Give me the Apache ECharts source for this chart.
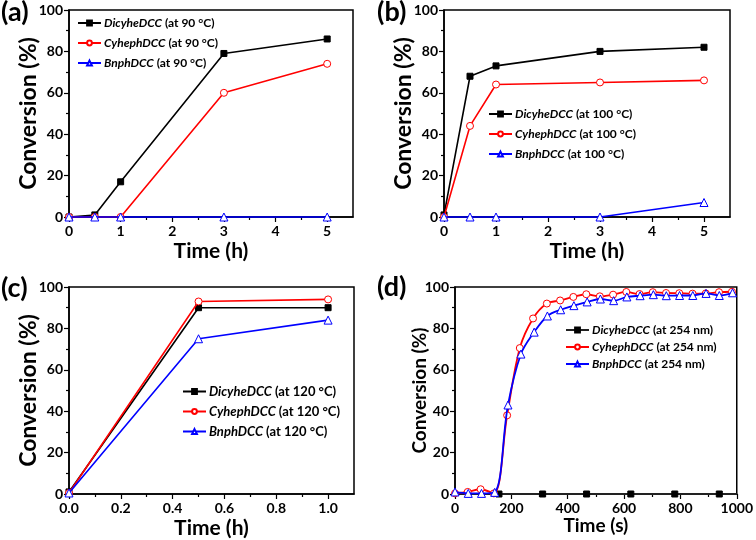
<!DOCTYPE html>
<html><head><meta charset="utf-8">
<script src="https://cdn.jsdelivr.net/npm/echarts@6/dist/echarts.min.js"></script>
<style>html,body{margin:0;padding:0;background:#fff}#c{width:756px;height:540px}</style>
</head><body><div id="c"></div>
<script>
// ---------- DATA ----------
// (a) 90 °C
const timeA = [0, 0.5, 1, 3, 5];
const dicyheA = [0, 1, 17, 79, 86];
const cyhephA = [0, 0, 0, 60, 74];
const bnphA = [0, 0, 0, 0, 0];
// (b) 100 °C
const timeB = [0, 0.5, 1, 3, 5];
const dicyheB = [1, 68, 73, 80, 82];
const cyhephB = [0, 44, 64, 65, 66];
const bnphB = [0, 0, 0, 0, 7];
// (c) 120 °C
const timeC = [0, 0.5, 1.0];
const dicyheC = [1, 90, 90];
const cyhephC = [0.5, 93, 94];
const bnphC = [0.5, 75, 84];
// (d) 254 nm
const timeD_dicyhe = [0, 156, 311, 467, 624, 780, 938, 1000];
const dicyheD = [0, 0, 0, 0, 0, 0, 0, 0];
const timeD_cyheph = [0, 45, 91, 138, 185, 230, 277, 326, 373, 420, 466, 514, 561, 608, 655, 702, 749, 796, 843, 890, 937, 983];
const cyhephD = [0.3, 1, 2.3, 0.3, 38, 70.5, 84.8, 92, 93.5, 95.2, 96.5, 95.5, 96.3, 97.6, 96.6, 97.5, 97.1, 97.0, 96.8, 96.9, 97.5, 97.7];
const timeD_bnph = [0, 47, 94, 141, 188, 234, 281, 328, 375, 422, 469, 516, 563, 610, 657, 704, 750, 797, 844, 891, 938, 985];
const bnphD = [1, 0.3, 0.3, 0.8, 43, 67.6, 78.2, 86, 89, 91, 92.8, 94.2, 93.4, 95.2, 95.8, 96.3, 95.8, 95.9, 95.9, 96.9, 95.9, 97.2];

const majorTicksAB = [0, 1, 2, 3, 4, 5];
const minorTicksAB = [0.5, 1.5, 2.5, 3.5, 4.5];
const majorTicksC = [0, 0.2, 0.4, 0.6, 0.8, 1.0];
const minorTicksC = [0.1, 0.3, 0.5, 0.7, 0.9];

const namesA = ['DicyheDCC (at 90 \u00B0C)', 'CyhephDCC (at 90 \u00B0C)', 'BnphDCC (at 90 \u00B0C)'];
const namesB = ['DicyheDCC (at 100 \u00B0C)', 'CyhephDCC (at 100 \u00B0C)', 'BnphDCC (at 100 \u00B0C)'];
const namesC = ['DicyheDCC (at 120 \u00B0C)', 'CyhephDCC (at 120 \u00B0C)', 'BnphDCC (at 120 \u00B0C)'];
const namesD = ['DicyheDCC (at 254 nm)', 'CyhephDCC (at 254 nm)', 'BnphDCC (at 254 nm)'];

// ---------- STYLE ----------
const F = 'Lato';
const pair = (xs, ys) => xs.map((x, i) => [x, ys[i]]);

const grids = [
  {left: 69, top: 10, width: 284, height: 207},
  {left: 444, top: 10, width: 286, height: 207},
  {left: 69, top: 287, width: 285, height: 207},
  {left: 455, top: 287, width: 284, height: 207}
].map(g => Object.assign(g, {show: true, borderColor: '#000', borderWidth: 1.5, backgroundColor: 'transparent'}));

const lbl = (fs, fmt, custom) => {
  const o = {fontFamily: F, fontWeight: 'bold', fontSize: fs, color: '#000', margin: 7};
  if (fmt) o.formatter = fmt;
  if (custom) o.customValues = custom;
  return o;
};
const axLine = {show: true, onZero: false, lineStyle: {color: '#000', width: 1.5}};

function mainX(gi, min, max, custom, fmt, name, nfs, gap) {
  const ax = {type: 'value', gridIndex: gi, min: min, max: max, position: 'bottom',
    axisLine: axLine, splitLine: {show: false},
    axisTick: {show: true, inside: false, length: 5, lineStyle: {color: '#000', width: 1.2}},
    axisLabel: lbl(14, fmt, custom),
    name: name, nameLocation: 'middle', nameGap: gap, nameMoveOverlap: false,
    nameTextStyle: {fontFamily: F, fontWeight: 'bold', fontSize: nfs, color: '#000'}};
  if (custom) ax.axisTick.customValues = custom;
  return ax;
}
function minorX(gi, min, max, custom) {
  return {type: 'value', gridIndex: gi, min: min, max: max, position: 'bottom',
    axisLine: {show: false}, splitLine: {show: false}, axisLabel: {show: false},
    axisTick: {show: true, inside: false, length: 3, lineStyle: {color: '#000', width: 1.2}, customValues: custom}};
}
function yAx(gi, nfs, gap) {
  return {type: 'value', gridIndex: gi, min: 0, max: 100, interval: 20,
    axisLine: axLine, splitLine: {show: false},
    axisTick: {show: true, inside: false, length: 5, lineStyle: {color: '#000', width: 1.2}},
    minorTick: {show: true, splitNumber: 2, length: 3, lineStyle: {color: '#000', width: 1.2}},
    axisLabel: Object.assign(lbl(14), {margin: 6}),
    name: 'Conversion (%)', nameLocation: 'middle', nameGap: gap, nameRotate: 90, nameMoveOverlap: false,
    nameTextStyle: {fontFamily: F, fontWeight: 'bold', fontSize: nfs, color: '#000'}};
}

const xAxes = [
  mainX(0, 0, 5.5, majorTicksAB, null, 'Time (h)', 21, 24),
  minorX(0, 0, 5.5, minorTicksAB),
  mainX(1, 0, 5.5, majorTicksAB, null, 'Time (h)', 21, 24),
  minorX(1, 0, 5.5, minorTicksAB),
  mainX(2, 0, 1.1, majorTicksC, v => v.toFixed(1), 'Time (h)', 21, 24),
  minorX(2, 0, 1.1, minorTicksC),
  Object.assign(mainX(3, 0, 1000, null, v => String(v), 'Time (s)', 19, 22), {interval: 200,
    minorTick: {show: true, splitNumber: 2, length: 3, lineStyle: {color: '#000', width: 1.2}}})
];

const yAxes = [yAx(0, 23, 29), yAx(1, 23, 29), yAx(2, 23, 29), yAx(3, 19, 26)];

const styles = [
  {symbol: 'rect', symbolSize: 6, color: '#000', fill: '#000'},
  {symbol: 'circle', symbolSize: 7, color: '#ff0000', fill: '#fff'},
  {symbol: 'triangle', symbolSize: 8, color: '#0000ff', fill: '#fff'}
];
function mk(name, data, k, xi, yi, extra) {
  const s = styles[k];
  return Object.assign({
    type: 'line', name: name, data: data, xAxisIndex: xi, yAxisIndex: yi,
    symbol: s.symbol, symbolSize: s.symbolSize, showSymbol: true,
    lineStyle: {color: s.color, width: 1.6},
    itemStyle: {color: s.fill, borderColor: s.color, borderWidth: 1},
    emphasis: {disabled: true}, animation: false, clip: false, z: 2 + k
  }, extra || {});
}

const blackD = pair(timeD_dicyhe, dicyheD).map((p, i, arr) =>
  (i === 0 || i === arr.length - 1) ? {value: p, symbol: 'none'} : {value: p});

const series = [
  mk(namesA[0], pair(timeA, dicyheA), 0, 0, 0),
  mk(namesA[1], pair(timeA, cyhephA), 1, 0, 0),
  mk(namesA[2], pair(timeA, bnphA), 2, 0, 0),
  mk(namesB[0], pair(timeB, dicyheB), 0, 2, 1),
  mk(namesB[1], pair(timeB, cyhephB), 1, 2, 1),
  mk(namesB[2], pair(timeB, bnphB), 2, 2, 1),
  mk(namesC[0], pair(timeC, dicyheC), 0, 4, 2),
  mk(namesC[1], pair(timeC, cyhephC), 1, 4, 2),
  mk(namesC[2], pair(timeC, bnphC), 2, 4, 2),
  mk(namesD[0], blackD, 0, 6, 3, {lineStyle: {color: '#222', width: 2.2}}),
  mk(namesD[1], pair(timeD_cyheph, cyhephD), 1, 6, 3, {smooth: 0.35, lineStyle: {color: '#ff0000', width: 1.8}}),
  mk(namesD[2], pair(timeD_bnph, bnphD), 2, 6, 3, {smooth: 0.35, lineStyle: {color: '#0000ff', width: 1.8}})
];

function legend(names, left, top, fs, rowH) {
  return {
    data: names, left: left, top: top, orient: 'vertical', padding: 0,
    itemWidth: 23, itemHeight: 6, itemGap: rowH - 12, selectedMode: false,
    formatter: n => { const k = n.indexOf(' '); return '{i|' + n.slice(0, k) + '}{n|' + n.slice(k) + '}'; },
    textStyle: {padding: [0, 0, 0, -2], rich: {
      i: {fontFamily: F, fontStyle: 'italic', fontWeight: 'bold', fontSize: fs, color: '#000', lineHeight: 12},
      n: {fontFamily: F, fontWeight: 'bold', fontSize: fs, color: '#000', lineHeight: 12}}}
  };
}

const letter = (t, x, y) => ({type: 'text', left: x, top: y,
  style: {text: t, fontFamily: F, fontWeight: 'bold', fontSize: 27, fill: '#000'}});

const chart = echarts.init(document.getElementById('c'), null, {renderer: 'canvas'});
chart.setOption({
  animation: false,
  backgroundColor: '#fff',
  grid: grids,
  xAxis: xAxes,
  yAxis: yAxes,
  legend: [
    legend(namesA, 77, 17, 12, 20),
    legend(namesB, 488, 108, 12, 20),
    legend(namesC, 182, 385, 13, 19),
    legend(namesD, 565, 324, 12, 17)
  ],
  graphic: [letter('(a)', 1, -1), letter('(b)', 377, -1), letter('(c)', 1, 275), letter('(d)', 377, 274)],
  series: series
});
</script>
</body></html>
